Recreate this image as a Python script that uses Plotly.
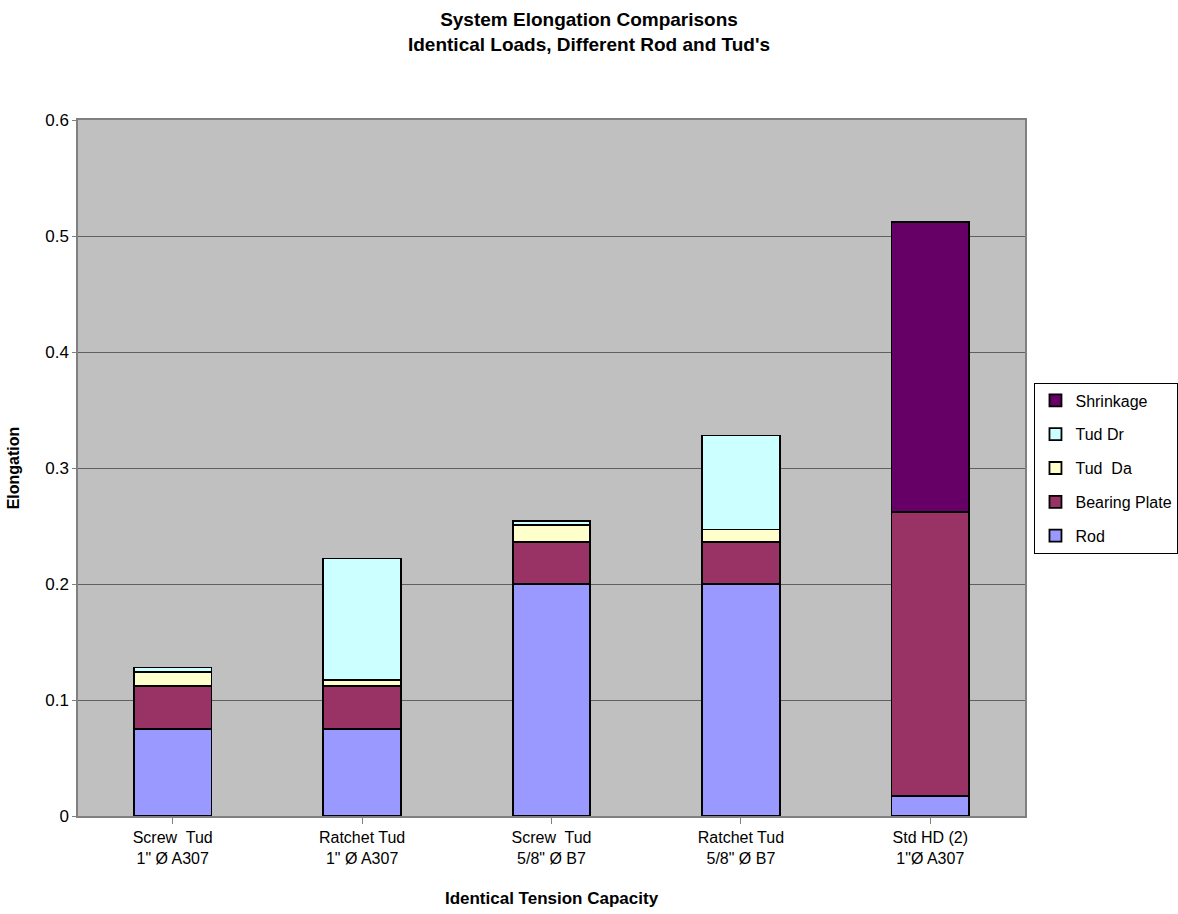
import plotly.graph_objects as go

categories = ["Screw  Tud<br>1\" Ø A307", "Ratchet Tud<br>1\" Ø A307", "Screw  Tud<br>5/8\" Ø B7",
              "Ratchet Tud<br>5/8\" Ø B7", "Std HD (2)<br>1\"Ø A307"]
rod = [0.075, 0.075, 0.200, 0.200, 0.017]
bearing_plate = [0.037, 0.037, 0.036, 0.036, 0.245]
tud_da = [0.012, 0.005, 0.015, 0.011, 0.0]
tud_dr = [0.004, 0.105, 0.003, 0.081, 0.0]
shrinkage = [0.0, 0.0, 0.0, 0.0, 0.250]
y_ticks = [0, 0.1, 0.2, 0.3, 0.4, 0.5, 0.6]
y_tick_labels = ["0", "0.1", "0.2", "0.3", "0.4", "0.5", "0.6"]

series = [
    ("Rod", rod, "#9999FF"),
    ("Bearing Plate", bearing_plate, "#993366"),
    ("Tud  Da", tud_da, "#FFFFCC"),
    ("Tud Dr", tud_dr, "#CCFFFF"),
    ("Shrinkage", shrinkage, "#660066"),
]

fig = go.Figure()
n = len(series)
for i, (name, vals, color) in enumerate(series):
    fig.add_trace(go.Bar(
        x=categories, y=vals, name=name, legendgroup=name, legendrank=n - i,
        marker=dict(color=color, line=dict(color="black", width=1.8)),
    ))

font = "Liberation Sans, Arial, sans-serif"
fig.update_layout(
    width=1178, height=914,
    barmode="stack", bargap=0.59,
    paper_bgcolor="white", plot_bgcolor="#C0C0C0",
    margin=dict(l=78, r=153, t=120, b=98, autoexpand=False),
    font=dict(family=font, size=17, color="black"),
    title=dict(
        text="<b>System Elongation Comparisons<br>Identical Loads, Different Rod and Tud's</b>",
        x=0.5, xanchor="center", y=0.9715, yanchor="middle",
        font=dict(family=font, size=19, color="black"),
    ),
    legend=dict(
        x=1.01, xanchor="left", y=0.5, yanchor="middle",
        traceorder="grouped", tracegroupgap=10,
        bordercolor="black", borderwidth=1,
        bgcolor="white", font=dict(family=font, size=16),
        itemwidth=30,
    ),
    xaxis=dict(
        title=dict(text="<b>Identical Tension Capacity</b>", font=dict(size=17), standoff=26),
        showline=True, linecolor="#808080", linewidth=1.5, mirror=True,
        ticks="outside", ticklen=6, tickcolor="#808080",
        tickfont=dict(size=16),
    ),
    yaxis=dict(
        title=dict(text="<b>Elongation</b>", font=dict(size=16), standoff=22),
        range=[0, 0.6], tickvals=y_ticks, ticktext=y_tick_labels,
        showgrid=True, gridcolor="#606060", gridwidth=1,
        showline=True, linecolor="#808080", linewidth=1.5, mirror=True,
        ticks="outside", ticklen=4, tickcolor="#808080",
        tickfont=dict(size=17), zeroline=False,
    ),
)

fig.write_html("out.html")
